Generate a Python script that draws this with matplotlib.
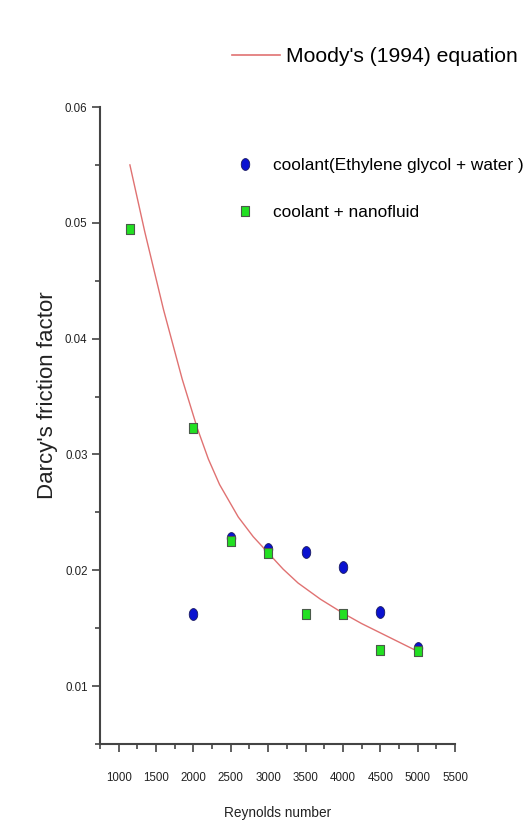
import matplotlib
matplotlib.use("Agg")
import matplotlib.pyplot as plt
import numpy as np
from matplotlib.path import Path
from matplotlib.lines import Line2D
from matplotlib.ticker import MultipleLocator

# ---- data ----
re_coolant = [2000, 2500, 3000, 3500, 4000, 4500, 5000]
f_coolant = [0.0162, 0.0228, 0.0218, 0.0216, 0.0203, 0.0164, 0.0133]

re_nano = [1150, 2000, 2500, 3000, 3500, 4000, 4500, 5000]
f_nano = [0.0495, 0.0323, 0.0225, 0.0215, 0.0162, 0.0162, 0.0131, 0.0130]

re_moody = [1150, 1350, 1600, 1850, 2050, 2200, 2350, 2600, 2800, 3000, 3200,
            3400, 3700, 4000, 4250, 4500, 4750, 5000]
f_moody = [0.0550, 0.0492, 0.0425, 0.0365, 0.0323, 0.0296, 0.0274, 0.0246,
           0.0229, 0.0215, 0.0201, 0.0189, 0.0175, 0.0163, 0.0154, 0.0146,
           0.0138, 0.0130]

x_ticks = [1000, 1500, 2000, 2500, 3000, 3500, 4000, 4500, 5000, 5500]
y_ticks = [0.01, 0.02, 0.03, 0.04, 0.05, 0.06]

FONT = ["Liberation Sans", "DejaVu Sans"]

# custom elliptical / rectangular markers
t = np.linspace(0, 2 * np.pi, 60)
ellipse = Path(np.column_stack([0.72 * np.cos(t), np.sin(t)]), closed=True)
rect = Path([(-0.7, -1), (0.7, -1), (0.7, 1), (-0.7, 1), (-0.7, -1)], closed=True)

W, H = 526, 834
fig = plt.figure(figsize=(W / 100, H / 100), dpi=100)
fig.patch.set_facecolor("white")

ax = fig.add_axes([100 / W, 1 - 744 / H, (455 - 100) / W, (744 - 107) / H])
ax.set_xlim(750, 5500)
ax.set_ylim(0.005, 0.06)

ax.plot(re_moody, f_moody, color="#e07272", lw=1.0, zorder=2)
ax.plot(re_coolant, f_coolant, linestyle="none", marker=ellipse, markersize=8.5,
        markerfacecolor="#0a12d0", markeredgecolor="#1a1a60", markeredgewidth=0.6, zorder=3)
ax.plot(re_nano, f_nano, linestyle="none", marker=rect, markersize=7.5,
        markerfacecolor="#22e022", markeredgecolor="#4a5a4a", markeredgewidth=0.8, zorder=4)

for s in ["top", "right"]:
    ax.spines[s].set_visible(False)
for s in ["left", "bottom"]:
    ax.spines[s].set_color("#444444")
    ax.spines[s].set_linewidth(1.5)

ax.set_xticks(x_ticks)
ax.set_xticklabels([str(v) for v in x_ticks])
ax.set_yticks(y_ticks)
ax.set_yticklabels([f"{v:.2f}" for v in y_ticks])
ax.xaxis.set_minor_locator(MultipleLocator(250))
ax.yaxis.set_minor_locator(MultipleLocator(0.005))
ax.tick_params(which="major", direction="out", length=6, width=1.2, color="#444444",
               labelsize=8.3, pad=14)
ax.tick_params(which="minor", direction="out", length=3.5, width=1.2, color="#444444")
ax.tick_params(axis="y", which="major", pad=3)
for lab in ax.get_xticklabels() + ax.get_yticklabels():
    lab.set_family(FONT)
    lab.set_color("#222222")

ax.set_xlabel("Reynolds number", family=FONT, fontsize=9.8, color="#222222", labelpad=16)
ax.set_ylabel("Darcy's friction factor", family=FONT, fontsize=16, color="#222222")
ax.yaxis.set_label_coords(-0.118, 0.548)

# legends
h1 = [Line2D([], [], color="#e07272", lw=1.2)]
fig.legend(h1, ["Moody's (1994) equation"], loc="center left",
           bbox_to_anchor=(232 / W, 1 - 57 / H), frameon=False, borderpad=0,
           borderaxespad=0, handlelength=2.25, handletextpad=0.33,
           prop={"family": FONT, "size": 15.2})

h2 = [Line2D([], [], linestyle="none", marker=ellipse, markersize=8.5,
             markerfacecolor="#0a12d0", markeredgecolor="#1a1a60", markeredgewidth=0.6),
      Line2D([], [], linestyle="none", marker=rect, markersize=7.5,
             markerfacecolor="#22e022", markeredgecolor="#4a5a4a", markeredgewidth=0.8)]
fig.legend(h2, ["coolant(Ethylene glycol + water )", "coolant + nanofluid"],
           loc="center left", bbox_to_anchor=(237 / W, 1 - 189 / H), frameon=False,
           borderpad=0, borderaxespad=0, handlelength=0.93, handletextpad=1.16,
           labelspacing=1.85, prop={"family": FONT, "size": 12.4})

fig.savefig("out.png", dpi=100, facecolor="white")
